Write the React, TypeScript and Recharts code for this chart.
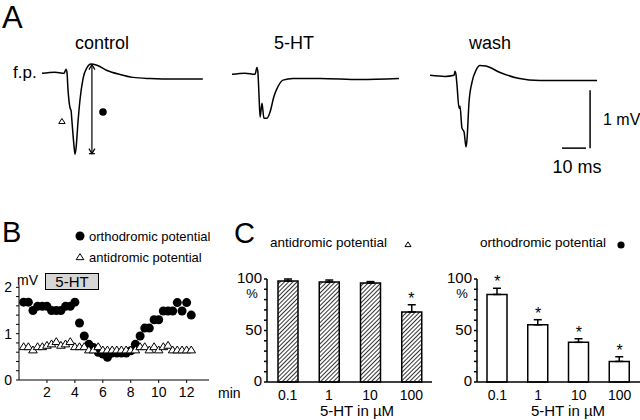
import React from 'react';
import {
  LineChart, Line, XAxis, YAxis, ReferenceLine, ReferenceDot,
  ScatterChart, Scatter, ComposedChart, Bar, ErrorBar,
} from 'recharts';

const FONT = 'Arial, "Liberation Sans", Helvetica, sans-serif';

// Panel A: field potential traces (time in ms, potential in mV)
const controlMs = [0, 5.4, 9.2, 10, 10.4, 10.8, 11.7, 12.1, 12.5, 13.3, 13.75, 14.2, 15, 15.8, 17.1, 18.75, 20.4, 22.9, 27.1, 32.5, 37.9, 45, 55.4, 67];
const controlMv = [0, 0.02, 0, 0.07, 0.02, -0.26, -0.6, -0.64, -0.84, -1.24, -1.4, -1.29, -0.84, -0.47, -0.09, 0.1, 0.16, 0.14, 0.05, -0.02, -0.07, -0.09, -0.1, -0.1];

const serotoninMs = [0, 5.4, 9.6, 10.4, 10.8, 11.25, 11.7, 12.5, 13.3, 14.6, 15.8, 17.5, 19.2, 21.25, 25.4, 36.7, 53.3, 69.6];
const serotoninMv = [0, 0.02, 0, 0.12, 0.03, -0.36, -0.74, -0.5, -0.76, -0.76, -0.66, -0.38, -0.21, -0.1, -0.07, -0.07, -0.09, -0.07];

const washMs = [0, 6.25, 10, 10.4, 10.8, 11.25, 12.1, 12.5, 13.3, 14.2, 15, 15.4, 16.25, 17.5, 19.2, 20.8, 23.3, 29.2, 36.7, 45.8, 69.6];
const washMv = [0, -0.02, 0, 0.07, 0.02, -0.17, -0.57, -0.53, -0.91, -0.98, -1.24, -1.12, -0.47, -0.12, 0.09, 0.17, 0.16, 0.05, -0.05, -0.09, -0.09];

// Panel B: time course (min, mV)
const timeMin = [0.33, 0.67, 1, 1.33, 1.67, 2, 2.33, 2.67, 3, 3.33, 3.67, 4, 4.33, 4.67, 5, 5.33, 5.67, 6, 6.33, 6.67, 7, 7.33, 7.67, 8, 8.33, 8.67, 9, 9.33, 9.67, 10, 10.33, 10.67, 11, 11.33, 11.67, 12, 12.33];
const orthodromic = [1.68, 1.68, 1.5, 1.59, 1.59, 1.59, 1.5, 1.5, 1.5, 1.59, 1.59, 1.68, 1.23, 0.95, 0.77, 0.7, 0.6, 0.56, 0.49, 0.58, 0.58, 0.58, 0.58, 0.63, 0.77, 0.95, 1.12, 1.12, 1.3, 1.3, 1.49, 1.49, 1.49, 1.67, 1.49, 1.67, 1.4];
const antidromic = [0.72, 0.72, 0.65, 0.72, 0.72, 0.75, 0.78, 0.83, 0.75, 0.78, 0.83, 0.72, 0.72, 0.72, 0.65, 0.65, 0.72, 0.65, 0.65, 0.65, 0.65, 0.65, 0.65, 0.65, 0.65, 0.72, 0.72, 0.65, 0.72, 0.65, 0.72, 0.75, 0.65, 0.65, 0.65, 0.65, 0.65];
const bYTicks = [0, 0.2, 0.4, 0.6, 0.8, 1, 1.2, 1.4, 1.6, 1.8, 2];
const bXTicks = [2, 4, 6, 8, 10, 12];

// Panel C: % of control vs 5-HT concentration
const concs = ['0.1', '1', '10', '100'];
const antiMean = [98, 97, 96, 68];
const antiSem = [2, 2, 1.5, 7];
const antiSig = [false, false, false, true];
const orthoMean = [85, 55.5, 38.5, 20];
const orthoSem = [6, 5, 3.5, 4.5];
const orthoSig = [true, true, true, true];
const cYTicks = [0, 10, 20, 30, 40, 50, 60, 70, 80, 90, 100];

const zip = (ts: number[], vs: number[]) => ts.map((t, i) => ({ t, v: vs[i] }));

function Txt({ x, y, size, anchor = 'start', children }: any) {
  const tx = anchor === 'middle' ? '-50%' : anchor === 'end' ? '-100%' : '0';
  return (
    <div style={{
      position: 'absolute', left: x, top: y, transform: `translate(${tx}, -50%)`,
      fontSize: size, fontFamily: FONT, lineHeight: 1, whiteSpace: 'nowrap', color: '#000',
    }}>{children}</div>
  );
}

const triPath = (cx: number, cy: number, s: number) =>
  `M${cx},${cy - s * 0.9} L${cx + s},${cy + s * 0.7} L${cx - s},${cy + s * 0.7} Z`;

const arrowShape = (p: any) => {
  const { x1, y1, x2, y2 } = p;
  const top = Math.min(y1, y2);
  const bot = Math.max(y1, y2);
  return (
    <g stroke="#000" strokeWidth={1.2} fill="none">
      <line x1={x1} y1={top} x2={x2} y2={bot} />
      <path d={`M${x1 - 3},${top + 5} L${x1},${top} L${x1 + 3},${top + 5}`} />
      <path d={`M${x1 - 3},${bot - 5} L${x1},${bot} L${x1 + 3},${bot - 5}`} />
      <line x1={x1 - 3} y1={bot} x2={x1 + 3} y2={bot} />
    </g>
  );
};

function Trace({ data, left, top, children }: any) {
  return (
    <div style={{ position: 'absolute', left, top }}>
      <LineChart width={168} height={104} data={data} margin={{ top: 0, right: 0, bottom: 0, left: 0 }}>
        <XAxis dataKey="t" type="number" domain={[0, 70]} hide />
        <YAxis type="number" domain={[-1.5, 0.3]} hide />
        <Line dataKey="v" type="monotone" stroke="#000" strokeWidth={1.5} dot={false} isAnimationActive={false} />
        {children}
      </LineChart>
    </div>
  );
}

const dotShape = (p: any) => <circle cx={p.cx} cy={p.cy} r={4.5} fill="#000" />;
const triShape = (p: any) => <path d={triPath(p.cx, p.cy, 4.3)} fill="#fff" stroke="#000" strokeWidth={1} />;

const starShape = (p: any) => {
  if (!p.payload || p.payload.star == null) return <g />;
  return (
    <text x={p.cx} y={p.cy - 1} textAnchor="middle" fontSize={16} fontFamily={FONT} fill="#000">*</text>
  );
};

const pctTick = (p: any) => {
  const v = p.payload.value;
  if (v % 50 !== 0) return <g />;
  return (
    <g>
      <text x={p.x} y={p.y - 1} dy="0.355em" textAnchor="end" fontSize={15} fontFamily={FONT} fill="#000">{v}</text>
      {v === 100 && (
        <text x={p.x - 10} y={p.y + 14} dy="0.355em" textAnchor="middle" fontSize={13} fontFamily={FONT} fill="#000">%</text>
      )}
    </g>
  );
};

function BarPanel({ left, width, marginRight, mean, sem, sig, hatched }: any) {
  const data = concs.map((c, i) => ({
    conc: c,
    mean: mean[i],
    err: [0, sem[i]],
    star: sig[i] ? mean[i] + sem[i] : null,
  }));
  return (
    <div style={{ position: 'absolute', left, top: 260 }}>
      <ComposedChart width={width} height={152} data={data} margin={{ top: 19, right: marginRight, bottom: 0, left: 0 }}>
        <defs>
          <pattern id="hatch" width="3" height="3" patternUnits="userSpaceOnUse" patternTransform="rotate(45)">
            <rect width="3" height="3" fill="#fff" />
            <line x1="0" y1="0" x2="0" y2="3" stroke="#000" strokeWidth="1.6" />
          </pattern>
        </defs>
        <XAxis
          dataKey="conc" type="category" height={30} stroke="#000" strokeWidth={1.5}
          tickLine={false} tickSize={6} tickMargin={2} interval={0}
          tick={{ fill: '#000', fontSize: 14, fontFamily: FONT }}
        />
        <YAxis
          type="number" domain={[0, 100]} ticks={cYTicks} width={42} stroke="#000" strokeWidth={1.5}
          tickSize={3} tickMargin={2} tick={pctTick} interval={0}
        />
        <Bar dataKey="mean" barSize={20} fill={hatched ? 'url(#hatch)' : '#fff'} stroke="#000" strokeWidth={1.5} isAnimationActive={false}>
          <ErrorBar dataKey="err" direction="y" width={4} stroke="#000" strokeWidth={1.5} />
        </Bar>
        <Scatter dataKey="star" shape={starShape} isAnimationActive={false} />
      </ComposedChart>
    </div>
  );
}

export default function App() {
  const bOrtho = zip(timeMin, orthodromic);
  const bAnti = zip(timeMin, antidromic);
  return (
    <div style={{ position: 'absolute', left: 0, top: 0, width: 640, height: 420, background: '#fff', overflow: 'hidden', fontFamily: FONT }}>
      {/* Panel A */}
      <Txt x={2} y={17} size={31}>A</Txt>
      <Txt x={102} y={43} size={18} anchor="middle">control</Txt>
      <Txt x={294} y={43} size={18} anchor="middle">5-HT</Txt>
      <Txt x={490} y={43} size={18} anchor="middle">wash</Txt>
      <Txt x={13} y={72} size={17}>f.p.</Txt>

      <Trace data={zip(controlMs, controlMv)} left={42} top={55.6}>
        <ReferenceLine segment={[{ x: 20.8, y: 0.15 }, { x: 20.8, y: -1.39 }]} shape={arrowShape} stroke="#000" />
        <ReferenceDot x={8.3} y={-0.83} shape={(p: any) => <path d={triPath(p.cx, p.cy, 3.2)} fill="#fff" stroke="#000" strokeWidth={1} />} />
        <ReferenceDot x={25.4} y={-0.67} shape={(p: any) => <circle cx={p.cx} cy={p.cy} r={3.8} fill="#000" />} />
      </Trace>
      <Trace data={zip(serotoninMs, serotoninMv)} left={232} top={56.6} />
      <Trace data={zip(washMs, washMv)} left={430} top={57.6}>
        <ReferenceLine segment={[{ x: 55, y: -1.26 }, { x: 65, y: -1.26 }]} stroke="#000" strokeWidth={1.5} />
        <ReferenceLine segment={[{ x: 66.7, y: -0.26 }, { x: 66.7, y: -1.26 }]} stroke="#000" strokeWidth={1.5} />
      </Trace>
      <Txt x={603} y={120} size={16}>1 mV</Txt>
      <Txt x={577} y={167} size={18} anchor="middle">10 ms</Txt>

      {/* Panel B */}
      <Txt x={2} y={232} size={29}>B</Txt>
      <svg style={{ position: 'absolute', left: 72, top: 228 }} width={16} height={36}>
        <circle cx={8} cy={8} r={4.5} fill="#000" />
        <path d={triPath(8, 29, 3.8)} fill="#fff" stroke="#000" strokeWidth={1} />
      </svg>
      <Txt x={89} y={236} size={13}>orthodromic potential</Txt>
      <Txt x={89} y={257} size={13}>antidromic potential</Txt>
      <Txt x={17} y={280} size={14}>mV</Txt>
      <div style={{
        position: 'absolute', left: 45, top: 273, width: 52, height: 15, border: '1.5px solid #000',
        background: '#d6d6d6', fontSize: 15, fontFamily: FONT, lineHeight: '15px', textAlign: 'center', color: '#000',
      }}>5-HT</div>
      <div style={{ position: 'absolute', left: 0, top: 270 }}>
        <ScatterChart width={215} height={130} margin={{ top: 15, right: 6, bottom: 0, left: 0 }}>
          <XAxis
            dataKey="t" type="number" domain={[0, 13.6]} ticks={bXTicks} height={20} stroke="#000"
            tickSize={3} tickMargin={4} interval={0} tick={{ fill: '#000', fontSize: 14, fontFamily: FONT }}
          />
          <YAxis
            dataKey="v" type="number" domain={[0, 2.05]} ticks={bYTicks} width={19} stroke="#000"
            tickSize={3} tickMargin={4} interval={0} tick={{ fill: '#000', fontSize: 14, fontFamily: FONT }}
            tickFormatter={(v: number) => (Number.isInteger(v) ? String(v) : '')}
          />
          <Scatter data={bOrtho} shape={dotShape} isAnimationActive={false} />
          <Scatter data={bAnti} shape={triShape} isAnimationActive={false} />
        </ScatterChart>
      </div>
      <Txt x={218} y={393} size={14}>min</Txt>

      {/* Panel C */}
      <Txt x={234} y={233} size={29}>C</Txt>
      <Txt x={270} y={243} size={13.5}>antidromic potential</Txt>
      <svg style={{ position: 'absolute', left: 402, top: 238 }} width={12} height={12}>
        <path d={triPath(6, 6.5, 3)} fill="#fff" stroke="#000" strokeWidth={1} />
      </svg>
      <Txt x={480} y={243} size={13.5}>orthodromic potential</Txt>
      <svg style={{ position: 'absolute', left: 615, top: 239 }} width={12} height={12}>
        <circle cx={6} cy={6} r={3.6} fill="#000" />
      </svg>

      <BarPanel left={225} width={211} marginRight={4} mean={antiMean} sem={antiSem} sig={antiSig} hatched />
      <BarPanel left={435} width={205} marginRight={0} mean={orthoMean} sem={orthoSem} sig={orthoSig} hatched={false} />
      <Txt x={357} y={410} size={15} anchor="middle">5-HT in µM</Txt>
      <Txt x={568} y={410} size={15} anchor="middle">5-HT in µM</Txt>
    </div>
  );
}
